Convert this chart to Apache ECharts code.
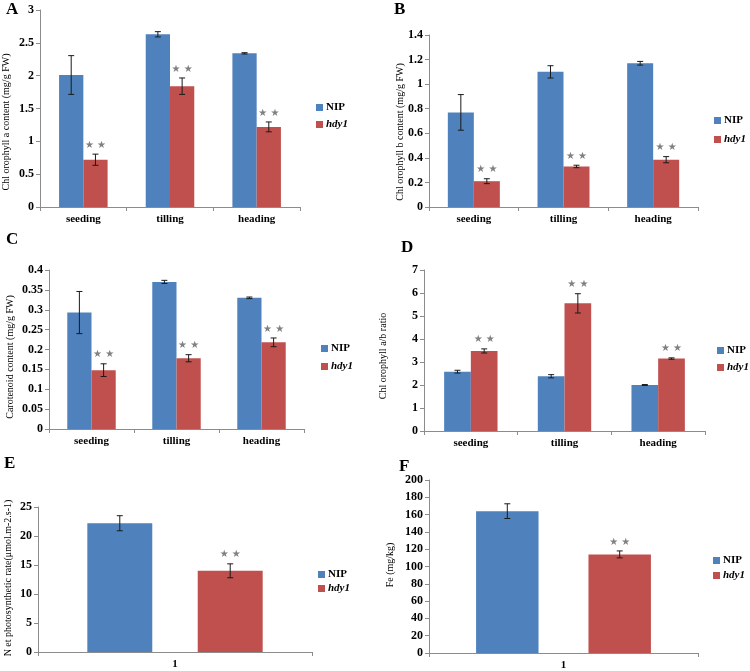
<!DOCTYPE html>
<html>
<head>
<meta charset="utf-8">
<script src="https://cdn.jsdelivr.net/npm/echarts@6/dist/echarts.min.js"></script>
<style>
html,body{margin:0;padding:0;background:#fff;}
#chart{width:750px;height:671px;}
</style>
</head>
<body>
<div id="chart"></div>
<script>
// ---- data ----
const categories = ['seeding', 'tilling', 'heading'];
const singleCategory = ['1'];
const seriesNames = ['NIP', 'hdy1'];

const aNip = [2.01, 2.63, 2.34];
const aNipErr = [0.295, 0.04, 0.01];
const aHdy = [0.72, 1.84, 1.22];
const aHdyErr = [0.085, 0.125, 0.075];

const bNip = [0.77, 1.10, 1.17];
const bNipErr = [0.145, 0.05, 0.015];
const bHdy = [0.21, 0.33, 0.385];
const bHdyErr = [0.02, 0.01, 0.025];

const cNip = [0.293, 0.370, 0.330];
const cNipErr = [0.053, 0.004, 0.002];
const cHdy = [0.148, 0.178, 0.218];
const cHdyErr = [0.016, 0.009, 0.011];

const dNip = [2.58, 2.38, 2.00];
const dNipErr = [0.06, 0.07, 0.02];
const dHdy = [3.48, 5.55, 3.15];
const dHdyErr = [0.09, 0.42, 0.03];

const eNip = [22.2];
const eNipErr = [1.3];
const eHdy = [14.0];
const eHdyErr = [1.2];

const fNip = [164];
const fNipErr = [8.5];
const fHdy = [114];
const fHdyErr = [4];

// significance marks (on hdy1 bars)
const sigMark = '\u2605 \u2605';

// y axis scales: [max, step]
const yMaxA = 3, yStepA = 0.5;
const yMaxB = 1.4, yStepB = 0.2;
const yMaxC = 0.4, yStepC = 0.05;
const yMaxD = 7, yStepD = 1;
const yMaxE = 25, yStepE = 5;
const yMaxF = 200, yStepF = 20;

const panelLetters = ['A', 'B', 'C', 'D', 'E', 'F'];
const yTitles = [
  'Chl orophyll a content (mg/g FW)',
  'Chl orophyll b content (mg/g FW)',
  'Carotenoid content (mg/g FW)',
  'Chl orophyll a/b ratio',
  'N et photosynthetic rate(\u03bcmol.m-2.s-1)',
  'Fe (mg/kg)'
];

// ---- layout/style ----
const BLUE = '#4F81BD', RED = '#C0504D', AXIS = '#8c8c8c';
const SERIF = '"Liberation Serif", "Times New Roman", serif';

const panels = [
  {cats: categories, nip: aNip, nipErr: aNipErr, hdy: aHdy, hdyErr: aHdyErr, max: yMaxA, step: yStepA,
   grid: {left: 40, top: 10, width: 260, height: 197}, gap: 0.44, barGap: 0,
   legend: {left: 311, top: 97, gap: 6}, letter: [6, 1], ytitle: [6, 122]},
  {cats: categories, nip: bNip, nipErr: bNipErr, hdy: bHdy, hdyErr: bHdyErr, max: yMaxB, step: yStepB,
   grid: {left: 429, top: 35, width: 269, height: 172}, gap: 0.42, barGap: 0,
   legend: {left: 709, top: 110, gap: 8}, letter: [394, 1], ytitle: [400, 132]},
  {cats: categories, nip: cNip, nipErr: cNipErr, hdy: cHdy, hdyErr: cHdyErr, max: yMaxC, step: yStepC,
   grid: {left: 49, top: 270, width: 255, height: 159}, gap: 0.43, barGap: 0,
   legend: {left: 316, top: 338, gap: 7}, letter: [6, 231], ytitle: [10, 357]},
  {cats: categories, nip: dNip, nipErr: dNipErr, hdy: dHdy, hdyErr: dHdyErr, max: yMaxD, step: yStepD,
   grid: {left: 424, top: 270, width: 281, height: 161}, gap: 0.43, barGap: 0,
   legend: {left: 712, top: 340, gap: 6}, letter: [401, 239], ytitle: [383, 356]},
  {cats: singleCategory, nip: eNip, nipErr: eNipErr, hdy: eHdy, hdyErr: eHdyErr, max: yMaxE, step: yStepE,
   grid: {left: 38, top: 507, width: 274, height: 145}, gap: 0.36, barGap: 0.7,
   legend: {left: 313, top: 564, gap: 3}, letter: [4, 455], ytitle: [8, 578]},
  {cats: singleCategory, nip: fNip, nipErr: fNipErr, hdy: fHdy, hdyErr: fHdyErr, max: yMaxF, step: yStepF,
   grid: {left: 429, top: 480, width: 269, height: 173}, gap: 0.35, barGap: 0.8,
   legend: {left: 708, top: 550, gap: 4}, letter: [399, 458], ytitle: [390, 565]}
];

const option = {
  animation: false,
  backgroundColor: '#fff',
  grid: [], xAxis: [], yAxis: [], series: [], legend: [],
  graphic: []
};

function makeErrRender(gap, barGap, showSig) {
  return function (params, api) {
    const ci = api.value(0), v = api.value(1), e = api.value(2), si = api.value(3);
    const c = api.coord([ci, v]);
    const band = api.size([1, 0])[0];
    const bw = band * (1 - gap) / (2 + barGap);
    const off = (bw + barGap * bw) / 2;
    const x = c[0] + (si === 0 ? -off : off);
    const yTop = api.coord([ci, v + e])[1];
    const yBot = api.coord([ci, v - e])[1];
    const cap = 3;
    const st = {stroke: '#1a1a1a', lineWidth: 1};
    const children = [
      {type: 'line', shape: {x1: x, y1: yTop, x2: x, y2: yBot}, style: st},
      {type: 'line', shape: {x1: x - cap, y1: yTop, x2: x + cap, y2: yTop}, style: st},
      {type: 'line', shape: {x1: x - cap, y1: yBot, x2: x + cap, y2: yBot}, style: st}
    ];
    if (si === 1 && showSig) {
      children.push({type: 'text', x: x, y: yTop - 9,
        style: {text: sigMark, fill: '#808080', font: '10px "DejaVu Sans"', align: 'center', verticalAlign: 'middle'}});
    }
    return {type: 'group', children: children};
  };
}

panels.forEach(function (p, i) {
  option.grid.push(Object.assign({containLabel: false}, p.grid));
  option.xAxis.push({
    type: 'category', gridIndex: i, data: p.cats,
    axisLine: {lineStyle: {color: AXIS}},
    axisTick: {show: true, length: 4, lineStyle: {color: AXIS}},
    axisLabel: {color: '#000', fontFamily: SERIF, fontWeight: 'bold', fontSize: 11, margin: 7}
  });
  option.yAxis.push({
    type: 'value', gridIndex: i, min: 0, max: p.max, interval: p.step,
    axisLine: {show: true, lineStyle: {color: AXIS}},
    axisTick: {show: true, length: 4, lineStyle: {color: AXIS}},
    splitLine: {show: false},
    axisLabel: {color: '#000', fontFamily: SERIF, fontWeight: 'bold', fontSize: 12, margin: 6}
  });
  option.series.push({
    name: 'NIP', type: 'bar', xAxisIndex: i, yAxisIndex: i, data: p.nip,
    itemStyle: {color: BLUE}, barGap: (p.barGap * 100) + '%', barCategoryGap: (p.gap * 100) + '%'
  });
  option.series.push({
    name: 'hdy1', type: 'bar', xAxisIndex: i, yAxisIndex: i, data: p.hdy,
    itemStyle: {color: RED}, barGap: (p.barGap * 100) + '%', barCategoryGap: (p.gap * 100) + '%'
  });
  const errData = [];
  p.cats.forEach(function (c, k) {
    errData.push([k, p.nip[k], p.nipErr[k], 0]);
    errData.push([k, p.hdy[k], p.hdyErr[k], 1]);
  });
  option.series.push({
    type: 'custom', xAxisIndex: i, yAxisIndex: i, data: errData, z: 10,
    renderItem: makeErrRender(p.gap, p.barGap, true), silent: true
  });
  option.legend.push({
    data: seriesNames, orient: 'vertical', left: p.legend.left, top: p.legend.top,
    itemWidth: 7, itemHeight: 7, itemGap: p.legend.gap, icon: 'rect', selectedMode: false,
    formatter: function (n) { return n === 'hdy1' ? '{i|hdy1}' : '{b|NIP}'; },
    textStyle: {
      padding: [0, 0, 0, -2],
      rich: {
        b: {fontFamily: SERIF, fontWeight: 'bold', fontSize: 11, color: '#000'},
        i: {fontFamily: SERIF, fontWeight: 'bold', fontStyle: 'italic', fontSize: 11, color: '#000'}
      }
    }
  });
  option.graphic.push({
    type: 'text', left: p.letter[0], top: p.letter[1],
    style: {text: panelLetters[i], font: 'bold 17px ' + SERIF, fill: '#000'}
  });
  option.graphic.push({
    type: 'text', x: p.ytitle[0], y: p.ytitle[1], rotation: Math.PI / 2,
    style: {text: yTitles[i], font: '10px ' + SERIF, fill: '#000', align: 'center', verticalAlign: 'middle'}
  });
});

const chart = echarts.init(document.getElementById('chart'), null, {renderer: 'canvas'});
chart.setOption(option);
</script>
</body>
</html>
